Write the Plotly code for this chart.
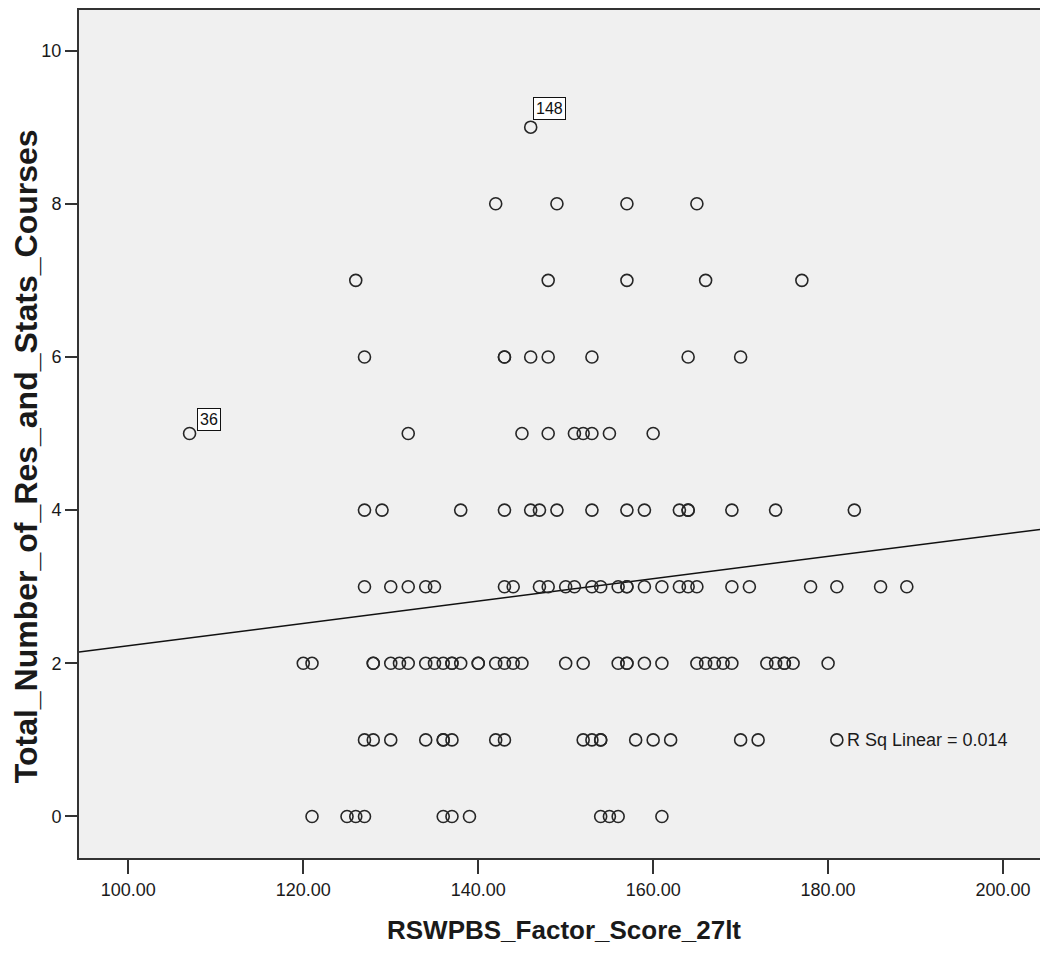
import numpy as np
import plotly.graph_objects as go

# RSWPBS_Factor_Score_27lt values grouped by Total_Number_of_Res_and_Stats_Courses
scores_by_courses = {
    0: [121, 125, 126, 127, 136, 137, 139, 154, 155, 156, 161],
    1: [127, 128, 130, 134, 136, 136, 137, 142, 143, 152, 153, 154, 154, 158, 160, 162, 170, 172, 181],
    2: [120, 121, 128, 128, 130, 131, 132, 134, 135, 136, 137, 137, 138, 140, 140, 142, 143, 144, 145,
        150, 152, 156, 157, 157, 159, 161, 165, 166, 167, 168, 169, 173, 174, 175, 175, 176, 180],
    3: [127, 130, 132, 134, 135, 143, 144, 147, 148, 150, 151, 153, 154, 156, 157, 157, 159, 161, 163,
        164, 165, 169, 171, 178, 181, 186, 189],
    4: [127, 129, 138, 143, 146, 147, 149, 153, 157, 159, 163, 164, 164, 169, 174, 183],
    5: [107, 132, 145, 148, 151, 152, 153, 155, 160],
    6: [127, 143, 143, 146, 148, 153, 164, 170],
    7: [126, 148, 157, 166, 177],
    8: [142, 149, 157, 165],
    9: [146],
}

labeled_ids = ["148", "36"]
labeled_x = [146, 107]
labeled_y = [9, 5]

x_ticks = [100, 120, 140, 160, 180, 200]
y_ticks = [0, 2, 4, 6, 8, 10]
r_sq_text = "R Sq Linear = 0.014"

# Linear fit line
fit_intercept = 0.773
fit_slope = 0.01457

x_vals = []
y_vals = []
for c, s in scores_by_courses.items():
    x_vals += s
    y_vals += [c] * len(s)

x_range = [94.36, 205.14]
y_range = [-0.542, 10.53]

line_x = np.array(x_range)
line_y = fit_intercept + fit_slope * line_x

FONT = "Liberation Sans, Arial, sans-serif"

fig = go.Figure()
fig.add_trace(go.Scatter(
    x=line_x, y=line_y, mode="lines",
    line=dict(color="#111111", width=1.5), hoverinfo="skip", showlegend=False,
))
fig.add_trace(go.Scatter(
    x=x_vals, y=y_vals, mode="markers",
    marker=dict(symbol="circle-open", size=12, color="#262626", line=dict(width=1.6, color="#262626")),
    showlegend=False,
))

# Case labels
shifts = {"148": (2, 7), "36": (7, 3)}
for lid, lx, ly in zip(labeled_ids, labeled_x, labeled_y):
    xs, ys = shifts[lid]
    fig.add_annotation(
        x=lx, y=ly, xref="x", yref="y", text=lid, showarrow=False,
        xanchor="left", yanchor="bottom", xshift=xs, yshift=ys,
        font=dict(family=FONT, size=16, color="#111111"),
        bgcolor="white", bordercolor="#111111", borderwidth=1, borderpad=2,
    )

fig.add_annotation(
    x=181, y=1, xref="x", yref="y", text=r_sq_text, showarrow=False,
    xanchor="left", yanchor="middle", xshift=8,
    font=dict(family=FONT, size=18, color="#1a1a1a"),
)

# Axis titles
fig.add_annotation(
    x=0.5, y=-0.0847, xref="paper", yref="paper", text="<b>RSWPBS_Factor_Score_27lt</b>",
    showarrow=False, xanchor="center", yanchor="middle",
    font=dict(family=FONT, size=26, color="#1a1a1a"),
)
fig.add_annotation(
    x=-0.0545, y=0.474, xref="paper", yref="paper", text="<b>Total_Number_of_Res_and_Stats_Courses</b>",
    showarrow=False, textangle=-90, xanchor="center", yanchor="middle",
    font=dict(family=FONT, size=32, color="#1a1a1a"),
)

fig.update_layout(
    width=1040, height=940,
    margin=dict(l=71, r=0, t=0, b=90),
    paper_bgcolor="white", plot_bgcolor="#f0f0f0",
    showlegend=False,
)
fig.update_xaxes(
    range=x_range, tickvals=x_ticks, tickformat=".2f",
    ticks="outside", ticklen=14, tickwidth=2, tickcolor="#333333",
    showline=True, linewidth=2, linecolor="#333333", mirror=True,
    showgrid=False, zeroline=False,
    tickfont=dict(family=FONT, size=18, color="#1a1a1a"),
)
fig.update_yaxes(
    range=y_range, tickvals=y_ticks,
    ticks="outside", ticklen=12, tickwidth=2, tickcolor="#333333",
    showline=True, linewidth=2, linecolor="#333333",
    showgrid=False, zeroline=False,
    tickfont=dict(family=FONT, size=18, color="#1a1a1a"),
)

fig.write_html("out.html")
